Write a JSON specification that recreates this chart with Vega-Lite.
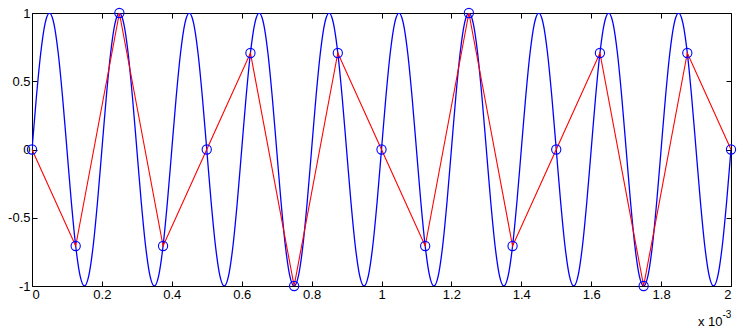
{
  "$schema": "https://vega.github.io/schema/vega-lite/v6.json",
  "width": 699,
  "height": 273,
  "autosize": {"type": "none"},
  "padding": {"left": 32, "top": 13, "right": 17, "bottom": 43},
  "background": "white",
  "config": {
    "view": {"stroke": "black", "strokeWidth": 1},
    "font": "Liberation Sans",
    "axis": {
      "grid": false,
      "domain": false,
      "tickColor": "black",
      "tickSize": -5,
      "labelColor": "black",
      "labelFont": "Liberation Sans",
      "labelFontSize": 13,
      "titleFont": "Liberation Sans",
      "titleFontWeight": "normal",
      "titleColor": "black"
    }
  },
  "datasets": {
    "wave": [
      {"t":0,"v":0},{"t":0.0125,"v":0.3827},{"t":0.025,"v":0.7071},{"t":0.0375,"v":0.9239},{"t":0.05,"v":1},{"t":0.0625,"v":0.9239},{"t":0.075,"v":0.7071},{"t":0.0875,"v":0.3827},{"t":0.1,"v":0},{"t":0.1125,"v":-0.3827},{"t":0.125,"v":-0.7071},{"t":0.1375,"v":-0.9239},{"t":0.15,"v":-1},{"t":0.1625,"v":-0.9239},{"t":0.175,"v":-0.7071},{"t":0.1875,"v":-0.3827},
      {"t":0.2,"v":0},{"t":0.2125,"v":0.3827},{"t":0.225,"v":0.7071},{"t":0.2375,"v":0.9239},{"t":0.25,"v":1},{"t":0.2625,"v":0.9239},{"t":0.275,"v":0.7071},{"t":0.2875,"v":0.3827},{"t":0.3,"v":0},{"t":0.3125,"v":-0.3827},{"t":0.325,"v":-0.7071},{"t":0.3375,"v":-0.9239},{"t":0.35,"v":-1},{"t":0.3625,"v":-0.9239},{"t":0.375,"v":-0.7071},{"t":0.3875,"v":-0.3827},
      {"t":0.4,"v":0},{"t":0.4125,"v":0.3827},{"t":0.425,"v":0.7071},{"t":0.4375,"v":0.9239},{"t":0.45,"v":1},{"t":0.4625,"v":0.9239},{"t":0.475,"v":0.7071},{"t":0.4875,"v":0.3827},{"t":0.5,"v":0},{"t":0.5125,"v":-0.3827},{"t":0.525,"v":-0.7071},{"t":0.5375,"v":-0.9239},{"t":0.55,"v":-1},{"t":0.5625,"v":-0.9239},{"t":0.575,"v":-0.7071},{"t":0.5875,"v":-0.3827},
      {"t":0.6,"v":0},{"t":0.6125,"v":0.3827},{"t":0.625,"v":0.7071},{"t":0.6375,"v":0.9239},{"t":0.65,"v":1},{"t":0.6625,"v":0.9239},{"t":0.675,"v":0.7071},{"t":0.6875,"v":0.3827},{"t":0.7,"v":0},{"t":0.7125,"v":-0.3827},{"t":0.725,"v":-0.7071},{"t":0.7375,"v":-0.9239},{"t":0.75,"v":-1},{"t":0.7625,"v":-0.9239},{"t":0.775,"v":-0.7071},{"t":0.7875,"v":-0.3827},
      {"t":0.8,"v":0},{"t":0.8125,"v":0.3827},{"t":0.825,"v":0.7071},{"t":0.8375,"v":0.9239},{"t":0.85,"v":1},{"t":0.8625,"v":0.9239},{"t":0.875,"v":0.7071},{"t":0.8875,"v":0.3827},{"t":0.9,"v":0},{"t":0.9125,"v":-0.3827},{"t":0.925,"v":-0.7071},{"t":0.9375,"v":-0.9239},{"t":0.95,"v":-1},{"t":0.9625,"v":-0.9239},{"t":0.975,"v":-0.7071},{"t":0.9875,"v":-0.3827},
      {"t":1.0,"v":0},{"t":1.0125,"v":0.3827},{"t":1.025,"v":0.7071},{"t":1.0375,"v":0.9239},{"t":1.05,"v":1},{"t":1.0625,"v":0.9239},{"t":1.075,"v":0.7071},{"t":1.0875,"v":0.3827},{"t":1.1,"v":0},{"t":1.1125,"v":-0.3827},{"t":1.125,"v":-0.7071},{"t":1.1375,"v":-0.9239},{"t":1.15,"v":-1},{"t":1.1625,"v":-0.9239},{"t":1.175,"v":-0.7071},{"t":1.1875,"v":-0.3827},
      {"t":1.2,"v":0},{"t":1.2125,"v":0.3827},{"t":1.225,"v":0.7071},{"t":1.2375,"v":0.9239},{"t":1.25,"v":1},{"t":1.2625,"v":0.9239},{"t":1.275,"v":0.7071},{"t":1.2875,"v":0.3827},{"t":1.3,"v":0},{"t":1.3125,"v":-0.3827},{"t":1.325,"v":-0.7071},{"t":1.3375,"v":-0.9239},{"t":1.35,"v":-1},{"t":1.3625,"v":-0.9239},{"t":1.375,"v":-0.7071},{"t":1.3875,"v":-0.3827},
      {"t":1.4,"v":0},{"t":1.4125,"v":0.3827},{"t":1.425,"v":0.7071},{"t":1.4375,"v":0.9239},{"t":1.45,"v":1},{"t":1.4625,"v":0.9239},{"t":1.475,"v":0.7071},{"t":1.4875,"v":0.3827},{"t":1.5,"v":0},{"t":1.5125,"v":-0.3827},{"t":1.525,"v":-0.7071},{"t":1.5375,"v":-0.9239},{"t":1.55,"v":-1},{"t":1.5625,"v":-0.9239},{"t":1.575,"v":-0.7071},{"t":1.5875,"v":-0.3827},
      {"t":1.6,"v":0},{"t":1.6125,"v":0.3827},{"t":1.625,"v":0.7071},{"t":1.6375,"v":0.9239},{"t":1.65,"v":1},{"t":1.6625,"v":0.9239},{"t":1.675,"v":0.7071},{"t":1.6875,"v":0.3827},{"t":1.7,"v":0},{"t":1.7125,"v":-0.3827},{"t":1.725,"v":-0.7071},{"t":1.7375,"v":-0.9239},{"t":1.75,"v":-1},{"t":1.7625,"v":-0.9239},{"t":1.775,"v":-0.7071},{"t":1.7875,"v":-0.3827},
      {"t":1.8,"v":0},{"t":1.8125,"v":0.3827},{"t":1.825,"v":0.7071},{"t":1.8375,"v":0.9239},{"t":1.85,"v":1},{"t":1.8625,"v":0.9239},{"t":1.875,"v":0.7071},{"t":1.8875,"v":0.3827},{"t":1.9,"v":0},{"t":1.9125,"v":-0.3827},{"t":1.925,"v":-0.7071},{"t":1.9375,"v":-0.9239},{"t":1.95,"v":-1},{"t":1.9625,"v":-0.9239},{"t":1.975,"v":-0.7071},{"t":1.9875,"v":-0.3827},
      {"t":2,"v":0}
    ],
    "samples": [
      {"t":0,"v":0},{"t":0.125,"v":-0.7071},{"t":0.25,"v":1},{"t":0.375,"v":-0.7071},{"t":0.5,"v":0},{"t":0.625,"v":0.7071},{"t":0.75,"v":-1},{"t":0.875,"v":0.7071},{"t":1,"v":0},{"t":1.125,"v":-0.7071},{"t":1.25,"v":1},{"t":1.375,"v":-0.7071},{"t":1.5,"v":0},{"t":1.625,"v":0.7071},{"t":1.75,"v":-1},{"t":1.875,"v":0.7071},{"t":2,"v":0}
    ]
  },
  "layer": [
    {
      "data": {"name": "wave"},
      "mark": {"type": "line", "color": "#0000FF", "strokeWidth": 1.3, "interpolate": "monotone", "clip": true},
      "encoding": {
        "x": {"field": "t", "type": "quantitative", "scale": {"domain": [0, 2], "nice": false, "zero": false},
          "axis": {"orient": "bottom", "values": [0,0.2,0.4,0.6,0.8,1,1.2,1.4,1.6,1.8,2], "labelExpr": "'' + datum.value", "labelPadding": 7,
            "title": "x 10", "titleFontSize": 13, "titleAnchor": "end", "titleAlign": "right", "titleBaseline": "alphabetic", "titleX": 690, "titleY": 39}},
        "y": {"field": "v", "type": "quantitative", "scale": {"domain": [-1, 1], "nice": false, "zero": false},
          "axis": {"orient": "left", "values": [-1,-0.5,0,0.5,1], "labelExpr": "'' + datum.value", "labelPadding": 7, "title": null}}
      }
    },
    {
      "data": {"name": "samples"},
      "mark": {"type": "line", "color": "#FF0000", "strokeWidth": 1.1},
      "encoding": {
        "x": {"field": "t", "type": "quantitative",
          "axis": {"orient": "top", "values": [0,0.2,0.4,0.6,0.8,1,1.2,1.4,1.6,1.8,2], "labels": false, "title": null}},
        "y": {"field": "v", "type": "quantitative",
          "axis": {"orient": "right", "values": [-1,-0.5,0,0.5,1], "labels": false,
            "title": "-3", "titleAngle": 0, "titleFontSize": 10, "titleAlign": "left", "titleBaseline": "alphabetic", "titleX": -9, "titleY": 304}}
      }
    },
    {
      "data": {"name": "samples"},
      "mark": {"type": "point", "shape": "circle", "filled": false, "color": "#0000FF", "size": 85, "strokeWidth": 1.1, "opacity": 1},
      "encoding": {
        "x": {"field": "t", "type": "quantitative", "axis": null},
        "y": {"field": "v", "type": "quantitative", "axis": null}
      }
    }
  ],
  "resolve": {"axis": {"x": "independent", "y": "independent"}}
}
